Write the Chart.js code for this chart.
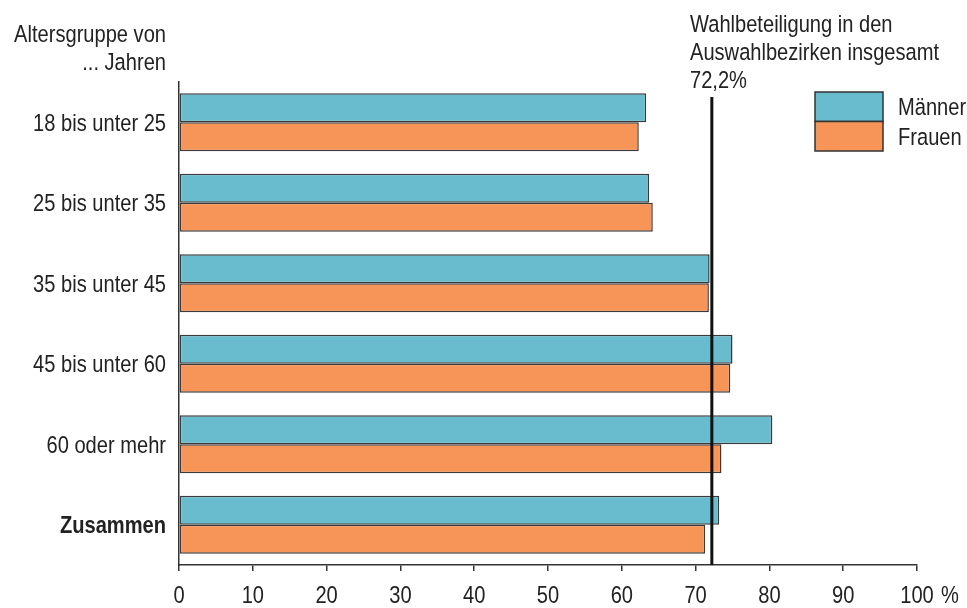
<!DOCTYPE html>
<html lang="de">
<head>
<meta charset="utf-8">
<script src="https://cdn.jsdelivr.net/npm/chart.js@4"></script>
<style>
  html, body { margin: 0; padding: 0; background: #fff; }
  #wrap { width: 967px; height: 608px; }
</style>
</head>
<body>
<div id="wrap"><canvas id="chart" width="967" height="608"></canvas></div>
<script>
const kategorien = ["18 bis unter 25", "25 bis unter 35", "35 bis unter 45", "45 bis unter 60", "60 oder mehr", "Zusammen"];
const maenner = [63.3, 63.7, 71.9, 75.0, 80.4, 73.2];
const frauen = [62.3, 64.2, 71.8, 74.7, 73.5, 71.3];
const serienNamen = ["Männer", "Frauen"];
const serienFarben = ["#68bccd", "#f79559"];
const xTicks = [0, 10, 20, 30, 40, 50, 60, 70, 80, 90, 100];
const gesamtBeteiligung = 72.2;
const achsenTitel = ["Altersgruppe von", "... Jahren"];
const hinweisText = ["Wahlbeteiligung in den", "Auswahlbezirken insgesamt", "72,2%"];

const schrift = "'Liberation Sans', Arial, sans-serif";
const textFarbe = "#222";
const linienFarbe = "#333";
const schmal = 0.82; // keine Condensed-Schrift da, also horizontal stauchen

// Text schmal zeichnen, y = Grundlinie
function schreibe(ctx, s, x, y, align, fett) {
  ctx.font = (fett ? "bold " : "") + "24.5px " + schrift;
  const w = ctx.measureText(s).width * schmal;
  const x0 = align === "right" ? x - w : align === "center" ? x - w / 2 : x;
  ctx.save();
  ctx.translate(x0, y);
  ctx.scale(schmal, 1);
  ctx.textAlign = "left";
  ctx.textBaseline = "alphabetic";
  ctx.fillText(s, 0, 0);
  ctx.restore();
}

const extras = {
  id: "extras",
  afterDatasetsDraw(chart) {
    const { ctx, chartArea, scales } = chart;
    const x = scales.x.getPixelForValue(gesamtBeteiligung);
    ctx.save();
    ctx.strokeStyle = "#111";
    ctx.lineWidth = 3;
    ctx.beginPath();
    ctx.moveTo(x, 97);
    ctx.lineTo(x, chartArea.bottom);
    ctx.stroke();
    ctx.restore();
  },
  afterDraw(chart) {
    const { ctx, scales } = chart;
    ctx.save();
    ctx.fillStyle = textFarbe;

    // Kategorien
    kategorien.forEach((k, i) => {
      const y = scales.y.getPixelForTick(i);
      schreibe(ctx, k, 166, y + 8.5, "right", i === kategorien.length - 1);
    });

    // x-Achse
    xTicks.forEach(v => schreibe(ctx, String(v), scales.x.getPixelForValue(v), 603, "center"));
    schreibe(ctx, "%", 950, 603, "center");

    // Titel der Kategorieachse
    schreibe(ctx, achsenTitel[0], 166, 42, "right");
    schreibe(ctx, achsenTitel[1], 166, 70, "right");

    // Hinweis zur Gesamtbeteiligung
    hinweisText.forEach((t, i) => schreibe(ctx, t, 690, 31.5 + i * 28.2, "left"));

    // Legende
    const lx = 815, lw = 68, lh = 29.5;
    serienNamen.forEach((name, i) => {
      const y = 92 + i * lh;
      ctx.fillStyle = serienFarben[i];
      ctx.fillRect(lx, y, lw, lh);
      ctx.strokeStyle = linienFarbe;
      ctx.lineWidth = 1.5;
      ctx.strokeRect(lx, y, lw, lh);
      ctx.fillStyle = textFarbe;
      schreibe(ctx, name, 898, 115 + i * 30, "left");
    });
    ctx.restore();
  }
};

new Chart(document.getElementById("chart"), {
  type: "bar",
  data: {
    labels: kategorien,
    datasets: [
      { label: serienNamen[0], data: maenner, backgroundColor: serienFarben[0] },
      { label: serienNamen[1], data: frauen, backgroundColor: serienFarben[1] }
    ]
  },
  options: {
    indexAxis: "y",
    responsive: false,
    animation: false,
    layout: { padding: { top: 82, right: 50, left: 0, bottom: 0 } },
    datasets: {
      bar: {
        categoryPercentage: 0.72,
        barPercentage: 1,
        borderWidth: 1.5,
        borderColor: "#3a3a3a",
        borderSkipped: false
      }
    },
    plugins: {
      legend: { display: false },
      tooltip: { enabled: false }
    },
    scales: {
      x: {
        type: "linear",
        min: 0,
        max: 100,
        afterBuildTicks: s => { s.ticks = xTicks.map(v => ({ value: v })); },
        afterFit: s => { s.height = 43; },
        ticks: { display: false },
        grid: { drawOnChartArea: false, drawTicks: true, tickLength: 6, color: linienFarbe, lineWidth: 1.5 },
        border: { display: true, color: linienFarbe, width: 1.5 }
      },
      y: {
        afterFit: s => { s.width = 179; },
        ticks: { display: false },
        grid: { drawOnChartArea: false, drawTicks: false, color: linienFarbe },
        border: { display: true, color: linienFarbe, width: 1.5 }
      }
    }
  },
  plugins: [extras]
});
</script>
</body>
</html>
